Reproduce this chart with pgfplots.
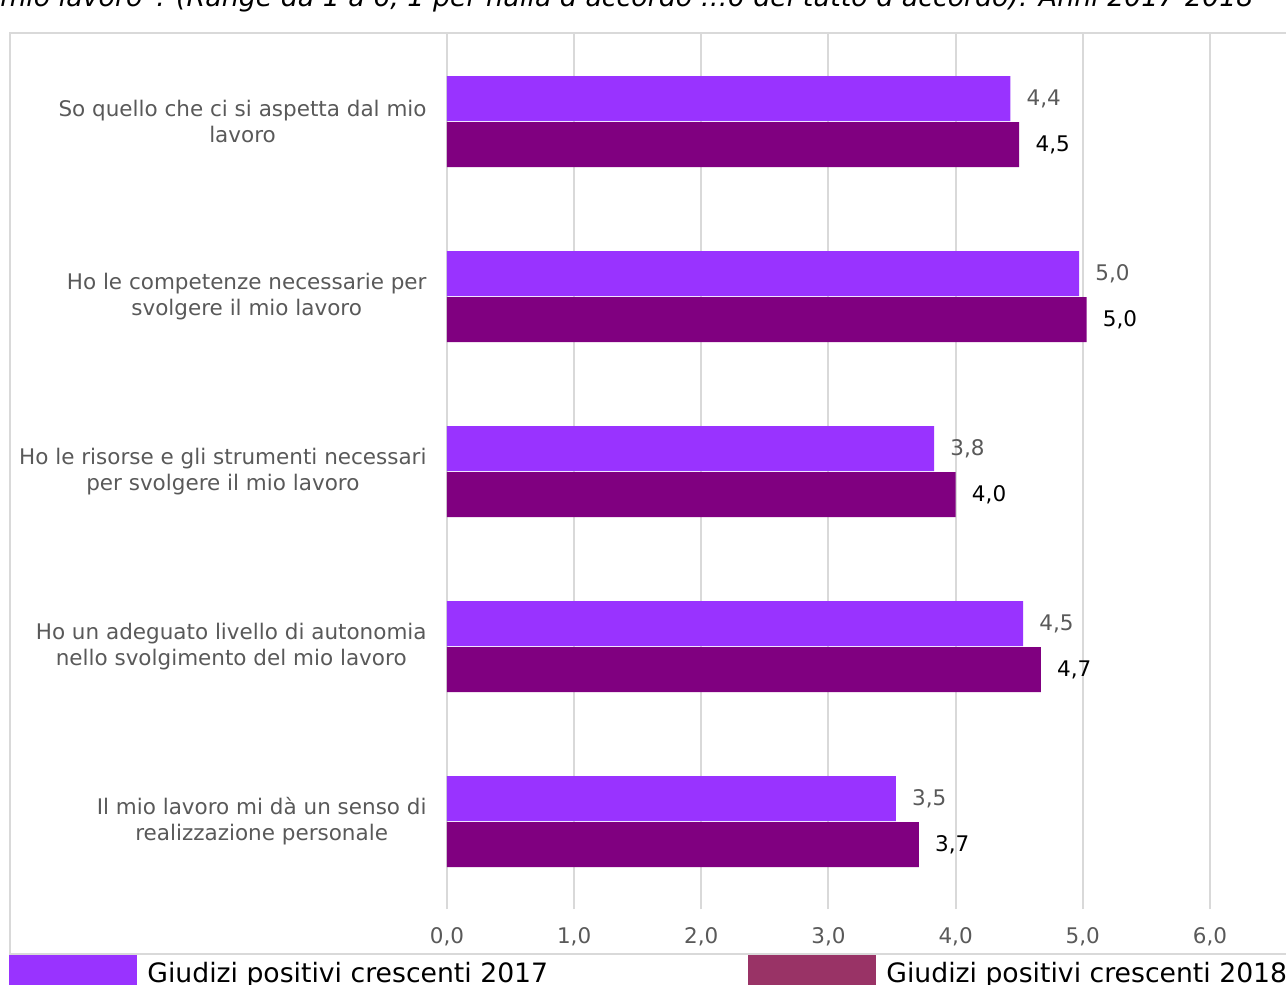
\documentclass[border=0pt]{standalone}
\usepackage{pgfplots}
\pgfplotsset{compat=1.18}
\usepackage{fontspec}
\setmainfont{DejaVu Sans}
\definecolor{cA}{HTML}{9933FF}
\definecolor{cB}{HTML}{800080}
\definecolor{cL}{HTML}{993366}
\definecolor{tgray}{HTML}{595959}
\definecolor{gridc}{HTML}{D9D9D9}
\begin{document}
\begin{tikzpicture}
\useasboundingbox (0pt,0pt) rectangle (771.6pt,-591pt);
\clip (0pt,0pt) rectangle (771.6pt,-591pt);
\node[anchor=base west, inner sep=0] at (0pt,-4.2pt) {\resizebox{751.8pt}{!}{\fontsize{16}{19}\selectfont\itshape mio lavoro”. (Range da 1 a 6, 1 per nulla d’accordo …6 del tutto d’accordo). Anni 2017-2018}};
\draw[gridc, line width=1.2pt] (5.7pt,-20.1pt) rectangle (780pt,-572.4pt);
\begin{axis}[
  at={(268.2pt,-545.4pt)}, anchor=south west, scale only axis,
  width=457.8pt, height=525pt,
  xmin=0, xmax=6, ymin=-0.5, ymax=4.5,
  xbar, bar width=27pt,
  xtick={0,1,2,3,4,5,6}, ytick={0,1,2,3,4},
  yticklabels={{Il mio lavoro mi dà un senso di\\realizzazione personale},
               {Ho un adeguato livello di autonomia\\nello svolgimento del mio lavoro},
               {Ho le risorse e gli strumenti necessari\\per svolgere il mio lavoro},
               {Ho le competenze necessarie per\\svolgere il mio lavoro},
               {So quello che ci si aspetta dal mio\\lavoro}},
  xmajorgrids, major grid style={draw=gridc, line width=1.2pt},
  axis line style={draw=none}, tick style={draw=none},
  font=\fontsize{12.9}{15.6}\selectfont,
  xticklabel style={anchor=center, yshift=-16.8pt, text=tgray, inner sep=0},
  yticklabel style={align=center, anchor=east, inner sep=0, xshift=-7.8pt, text=tgray},
  point meta=x,
  /pgf/number format/use comma,
  /pgf/number format/fixed,
  /pgf/number format/fixed zerofill,
  /pgf/number format/precision=1,
  /pgf/number format/assume math mode=true,
]
\addplot[fill=cA, draw=none, bar shift=13.8pt, nodes near coords,
  nodes near coords style={text=tgray, anchor=west, inner sep=0, xshift=9.6pt}]
  coordinates {(3.53,0) (4.53,1) (3.83,2) (4.97,3) (4.43,4)};
\addplot[fill=cB, draw=none, bar shift=-13.8pt, nodes near coords,
  nodes near coords style={text=black, anchor=west, inner sep=0, xshift=9.6pt}]
  coordinates {(3.71,0) (4.67,1) (4.00,2) (5.03,3) (4.50,4)};
\end{axis}
\fill[cA] (5.4pt,-573pt) rectangle (82.2pt,-597pt);
\node[anchor=base west, inner sep=0, font=\fontsize{16}{19}\selectfont] at (88.2pt,-589.2pt) {Giudizi positivi crescenti 2017};
\fill[cL] (448.8pt,-573pt) rectangle (525.6pt,-597pt);
\node[anchor=base west, inner sep=0, font=\fontsize{16}{19}\selectfont] at (531.6pt,-589.2pt) {Giudizi positivi crescenti 2018};
\end{tikzpicture}
\end{document}
